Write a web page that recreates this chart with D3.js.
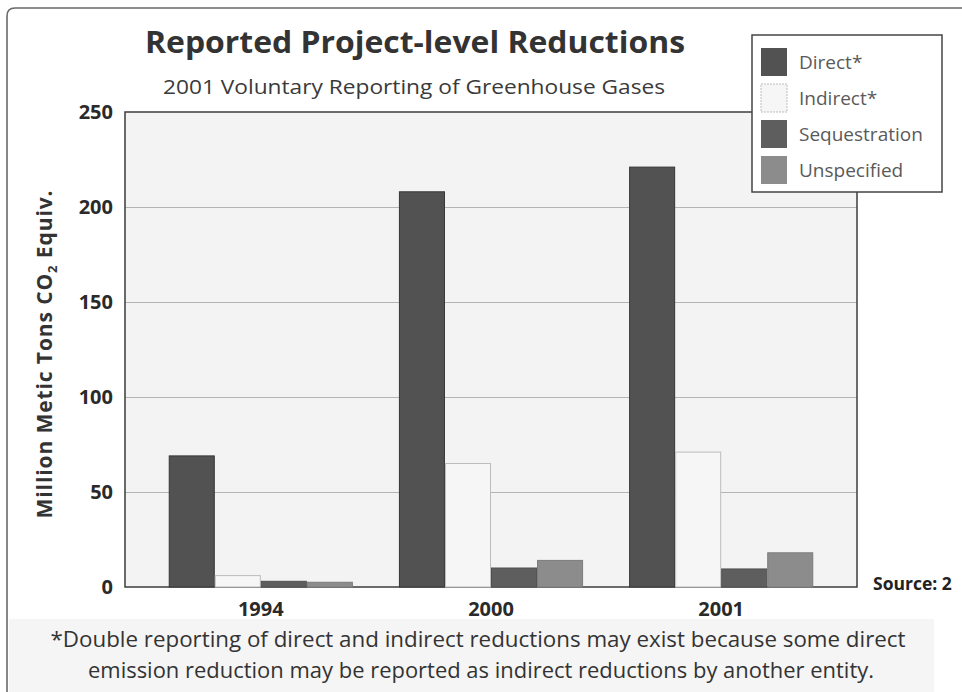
<!DOCTYPE html>
<html>
<head>
<meta charset="utf-8">
<script src="https://cdn.jsdelivr.net/npm/d3@7"></script>
<style>
  html, body { margin: 0; padding: 0; background: #fff; }
  svg { display: block; }
  text { font-family: "Open Sans", "Noto Sans", sans-serif; }
</style>
</head>
<body>
<svg id="chart" width="962" height="692"></svg>
<script>
// Reported project-level reductions, million metric tons CO2 equivalent
const categories = ["1994", "2000", "2001"];
const seriesNames = ["Direct*", "Indirect*", "Sequestration", "Unspecified"];
const direct        = [69, 208, 221];
const indirect      = [6, 65, 71];
const sequestration = [3, 10, 9.5];
const unspecified   = [2.5, 14, 18];
const yTicks = [0, 50, 100, 150, 200, 250];

const seriesValues = [direct, indirect, sequestration, unspecified];
const fills   = ["#525252", "#f6f6f6", "#5e5e5e", "#8c8c8c"];
const strokes = ["#363636", "#bdbdbd", "#505050", "#7c7c7c"];

const svg = d3.select("#chart");

// outer frame (top and left edges with a rounded corner)
svg.append("path")
  .attr("d", "M7,692 L7,16 Q7,8 15,8 L962,8")
  .attr("fill", "none").attr("stroke", "#6a6a6a").attr("stroke-width", 1.6);

// footnote band
svg.append("rect")
  .attr("x", 9).attr("y", 619).attr("width", 925).attr("height", 73)
  .attr("fill", "#f5f5f5");

const plot = { left: 125, right: 857, top: 112, bottom: 587 };

const x0 = d3.scaleBand()
  .domain(categories)
  .range([plot.left, plot.right])
  .paddingInner(0.2)
  .paddingOuter(0.19);

const x1 = d3.scaleBand()
  .domain(d3.range(seriesNames.length))
  .range([0, x0.bandwidth()]);

const y = d3.scaleLinear().domain([0, 250]).range([plot.bottom, plot.top]);

// plot background
svg.append("rect")
  .attr("x", plot.left).attr("y", plot.top)
  .attr("width", plot.right - plot.left).attr("height", plot.bottom - plot.top)
  .attr("fill", "#f3f3f3");

// gridlines
svg.append("g")
  .attr("transform", `translate(${plot.left},0)`)
  .call(d3.axisLeft(y).tickValues(yTicks.filter(d => d > 0 && d < 250))
    .tickSize(-(plot.right - plot.left)).tickFormat(""))
  .call(g => g.select(".domain").remove())
  .call(g => g.selectAll("line").attr("stroke", "#b4b4b4").attr("stroke-width", 1));

// plot frame
svg.append("rect")
  .attr("x", plot.left).attr("y", plot.top)
  .attr("width", plot.right - plot.left).attr("height", plot.bottom - plot.top)
  .attr("fill", "none").attr("stroke", "#3c3c3c").attr("stroke-width", 1.5);

// bars
const groups = svg.append("g").selectAll("g")
  .data(categories)
  .join("g")
  .attr("transform", d => `translate(${x0(d)},0)`);

groups.selectAll("rect")
  .data((d, i) => seriesValues.map((vals, s) => ({ s, v: vals[i] })))
  .join("rect")
  .attr("x", d => x1(d.s) + 0.5)
  .attr("y", d => y(d.v))
  .attr("width", x1.bandwidth() - 1)
  .attr("height", d => y(0) - y(d.v))
  .attr("fill", d => fills[d.s])
  .attr("stroke", d => strokes[d.s])
  .attr("stroke-width", 1);

// y axis labels
const yAxis = svg.append("g")
  .attr("transform", `translate(${plot.left},0)`)
  .call(d3.axisLeft(y).tickValues(yTicks).tickSize(0).tickPadding(12))
  .call(g => g.select(".domain").remove());
yAxis.selectAll("text")
  .attr("font-family", "'Open Sans', sans-serif")
  .attr("font-size", 20).attr("font-weight", 700).attr("fill", "#2a2a2a");

// x axis labels
const xAxis = svg.append("g")
  .attr("transform", `translate(0,${plot.bottom})`)
  .call(d3.axisBottom(x0).tickSize(0).tickPadding(15))
  .call(g => g.select(".domain").remove());
xAxis.selectAll("text")
  .attr("font-family", "'Open Sans', sans-serif")
  .attr("font-size", 20).attr("font-weight", 700).attr("fill", "#2a2a2a");

// y axis title
const yTitle = svg.append("text")
  .attr("transform", "translate(52,354) rotate(-90)")
  .attr("text-anchor", "middle")
  .attr("font-size", 21).attr("font-weight", 700).attr("fill", "#333")
  .attr("letter-spacing", 0.9);
yTitle.append("tspan").text("Million Metic Tons CO");
yTitle.append("tspan").attr("font-size", 13).attr("dy", 5).text("2");
yTitle.append("tspan").attr("dy", -5).text(" Equiv.");

// titles
svg.append("text")
  .attr("x", 415).attr("y", 53).attr("text-anchor", "middle")
  .attr("font-size", 31).attr("font-weight", 700).attr("fill", "#333")
  .attr("textLength", 540).attr("lengthAdjust", "spacingAndGlyphs")
  .text("Reported Project-level Reductions");
svg.append("text")
  .attr("x", 414).attr("y", 94).attr("text-anchor", "middle")
  .attr("font-size", 20).attr("fill", "#3a3a3a")
  .attr("textLength", 502).attr("lengthAdjust", "spacingAndGlyphs")
  .text("2001 Voluntary Reporting of Greenhouse Gases");

// legend
const legend = svg.append("g").attr("transform", "translate(752,35)");
legend.append("rect")
  .attr("width", 190).attr("height", 157)
  .attr("fill", "#fff").attr("stroke", "#444").attr("stroke-width", 1.5);
const items = legend.selectAll("g")
  .data(seriesNames)
  .join("g")
  .attr("transform", (d, i) => `translate(9,${13 + i * 36})`);
items.append("rect")
  .attr("width", 26).attr("height", 28)
  .attr("fill", (d, i) => fills[i])
  .attr("stroke", (d, i) => i === 1 ? "#bdbdbd" : "none")
  .attr("stroke-dasharray", (d, i) => i === 1 ? "2,1" : null);
items.append("text")
  .attr("x", 38).attr("y", 21)
  .attr("font-size", 19).attr("fill", "#5a5a5a")
  .text(d => d);

// source note
svg.append("text")
  .attr("x", 873).attr("y", 590)
  .attr("font-size", 17.5).attr("font-weight", 700).attr("fill", "#222")
  .text("Source: 2");

// footnote
const foot = svg.append("text")
  .attr("text-anchor", "middle").attr("font-size", 21).attr("fill", "#333");
foot.append("tspan").attr("x", 478).attr("y", 647)
  .attr("textLength", 855).attr("lengthAdjust", "spacingAndGlyphs")
  .text("*Double reporting of direct and indirect reductions may exist because some direct");
foot.append("tspan").attr("x", 481).attr("y", 678)
  .attr("textLength", 786).attr("lengthAdjust", "spacingAndGlyphs")
  .text("emission reduction may be reported as indirect reductions by another entity.");
</script>
</body>
</html>
